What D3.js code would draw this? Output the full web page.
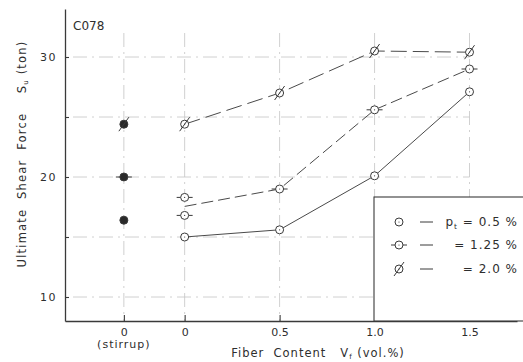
<!DOCTYPE html>
<html><head><meta charset="utf-8">
<script src="https://cdn.jsdelivr.net/npm/d3@7"></script>
<style>
body{margin:0;background:#fff}
svg text{font-family:"DejaVu Sans",sans-serif;fill:#2e2e2e}
</style></head><body>
<svg id="chart" width="523" height="362"></svg>
<script>
// Beam series C078: ultimate shear force against steel-fibre content
const fiberContents = [0, 0.5, 1.0, 1.5];
const xTickLabels = ["0", "0.5", "1.0", "1.5"];
const su_pt050 = [15.0, 15.6, 20.1, 27.1];
const su_pt125 = [null, 19.0, 25.6, 29.0];
const su_pt125_zero = [18.3, 16.8];          // two companion beams without fibre
const su_pt200 = [24.4, 27.0, 30.5, 30.4];
const su_stirrup = [16.4, 20.0, 24.4];        // stirrup-reinforced beams, pt = 0.5 / 1.25 / 2.0
const yTicks = [10, 15, 20, 25, 30];
const yLabels = [10, 20, 30];
const legendLabels = ["0.5", "1.25", "2.0"];

const svg = d3.select("#chart");
const ink = "#3a3a3a";

// the stirrup reference column sits left of the fibre-content axis
const STIRRUP = -0.32;
const x = d3.scaleLinear().domain([-0.63, 1.75]).range([65, 517]);
const y = d3.scaleLinear().domain([8, 34]).range([321, 9]);

// grid
const grid = svg.append("g").attr("stroke", "#c4c4c4").attr("stroke-width", 0.8)
  .attr("stroke-dasharray", "14,5,2,5").attr("fill", "none");
grid.selectAll("line.h").data(yTicks).join("line")
  .attr("x1", x.range()[0] + 8).attr("x2", x(1.5))
  .attr("y1", d => y(d)).attr("y2", d => y(d));
grid.selectAll("line.v").data([STIRRUP, ...fiberContents]).join("line")
  .attr("x1", d => x(d)).attr("x2", d => x(d))
  .attr("y1", y(32.0)).attr("y2", y.range()[0]);

// axes
const yAxis = svg.append("g").attr("transform", `translate(${x.range()[0]},0)`)
  .call(d3.axisLeft(y).tickValues(yTicks).tickSize(-4).tickSizeOuter(0).tickPadding(8)
    .tickFormat(d => yLabels.includes(d) ? d : ""));
yAxis.selectAll("text").style("font-size", "11px").style("letter-spacing", "1.5px");

const xAxis = svg.append("g").attr("transform", `translate(0,${y.range()[0]})`)
  .call(d3.axisBottom(x).tickValues([STIRRUP, ...fiberContents]).tickSize(-6).tickSizeOuter(0).tickPadding(7)
    .tickFormat(d => d === STIRRUP ? "0" : xTickLabels[fiberContents.indexOf(d)]));
xAxis.selectAll("text").style("font-size", "11px");
[yAxis, xAxis].forEach(a => {
  a.select(".domain").attr("stroke", ink).attr("stroke-width", 1.3);
  a.selectAll(".tick line").attr("stroke", ink).attr("stroke-width", 1.1);
});
svg.append("text").attr("x", x(STIRRUP)).attr("y", 348).attr("text-anchor", "middle")
  .style("font-size", "11px").style("letter-spacing", "1px").text("(stirrup)");

// axis titles
const xt = svg.append("text").attr("x", 318).attr("y", 357).attr("text-anchor", "middle")
  .style("font-size", "11.5px").style("letter-spacing", "1px").style("white-space", "pre");
xt.append("tspan").text("Fiber  Content   V");
xt.append("tspan").attr("dy", 2).style("font-size", "7px").text("f");
xt.append("tspan").attr("dy", -2).text(" (vol.%)");

const yt = svg.append("text").attr("transform", "translate(26,154) rotate(-90)")
  .attr("text-anchor", "middle").style("font-size", "11.5px").style("letter-spacing", "1.2px")
  .style("white-space", "pre");
yt.append("tspan").text("Ultimate  Shear  Force    S");
yt.append("tspan").attr("dy", 2).style("font-size", "7px").text("u");
yt.append("tspan").attr("dy", -2).text(" (ton)");

svg.append("text").attr("x", 73).attr("y", 30).style("font-size", "12px").text("C078");

// series lines
const line = d3.line().x(d => x(d[0])).y(d => y(d[1]));
const pts = vals => fiberContents.map((f, i) => [f, vals[i]]);
const lines = svg.append("g").attr("fill", "none").attr("stroke", "#4a4a4a").attr("stroke-width", 1);
lines.append("path").attr("d", line(pts(su_pt050)));
const p125 = pts(su_pt125); p125[0][1] = d3.mean(su_pt125_zero);
lines.append("path").attr("d", line(p125)).attr("stroke-dasharray", "12,5");
lines.append("path").attr("d", line(pts(su_pt200))).attr("stroke-dasharray", "16,6");

// markers
const R = 4;
function marker(g, kind, cx, cy, filled) {
  const m = g.append("g").attr("transform", `translate(${cx},${cy})`)
    .attr("stroke", ink).attr("stroke-width", 1);
  if (kind === 1) {
    m.append("line").attr("x1", -R - 4).attr("x2", R + 4).attr("y1", 0).attr("y2", 0);
  }
  m.append("circle").attr("r", R).attr("fill", filled ? "#2a2a2a" : "#fff");
  if (!filled) m.append("circle").attr("r", 0.6).attr("fill", ink).attr("stroke", "none");
  if (kind === 2) {
    m.append("line").attr("x1", -R - 1).attr("y1", R + 3).attr("x2", R + 1).attr("y2", -R - 3);
  }
}
const mk = svg.append("g");
fiberContents.forEach((f, i) => {
  marker(mk, 0, x(f), y(su_pt050[i]), false);
  if (su_pt125[i] != null) marker(mk, 1, x(f), y(su_pt125[i]), false);
  marker(mk, 2, x(f), y(su_pt200[i]), false);
});
su_pt125_zero.forEach(v => marker(mk, 1, x(0), y(v), false));
su_stirrup.forEach((v, i) => marker(mk, i, x(STIRRUP), y(v), true));

// legend
const lg = svg.append("g");
lg.append("rect").attr("x", 374).attr("y", 197).attr("width", 170).attr("height", 124)
  .attr("fill", "#fff").attr("stroke", ink).attr("stroke-width", 1.1);
const rows = [222, 245, 269];
legendLabels.forEach((lab, i) => {
  marker(lg, i, 399, rows[i], false);
  lg.append("line").attr("x1", 420).attr("x2", 433).attr("y1", rows[i]).attr("y2", rows[i])
    .attr("stroke", ink).attr("stroke-width", 1);
  const t = lg.append("text").attr("x", 518).attr("y", rows[i] + 4).attr("text-anchor", "end")
    .style("font-size", "12px").style("letter-spacing", "1px").style("white-space", "pre");
  if (i === 0) {
    t.append("tspan").text("p");
    t.append("tspan").attr("dy", 3).style("font-size", "7.5px").text("t");
    t.append("tspan").attr("dy", -3).text(" = " + lab + " %");
  } else {
    t.text("= " + lab + " %");
  }
});
</script>
</body></html>
